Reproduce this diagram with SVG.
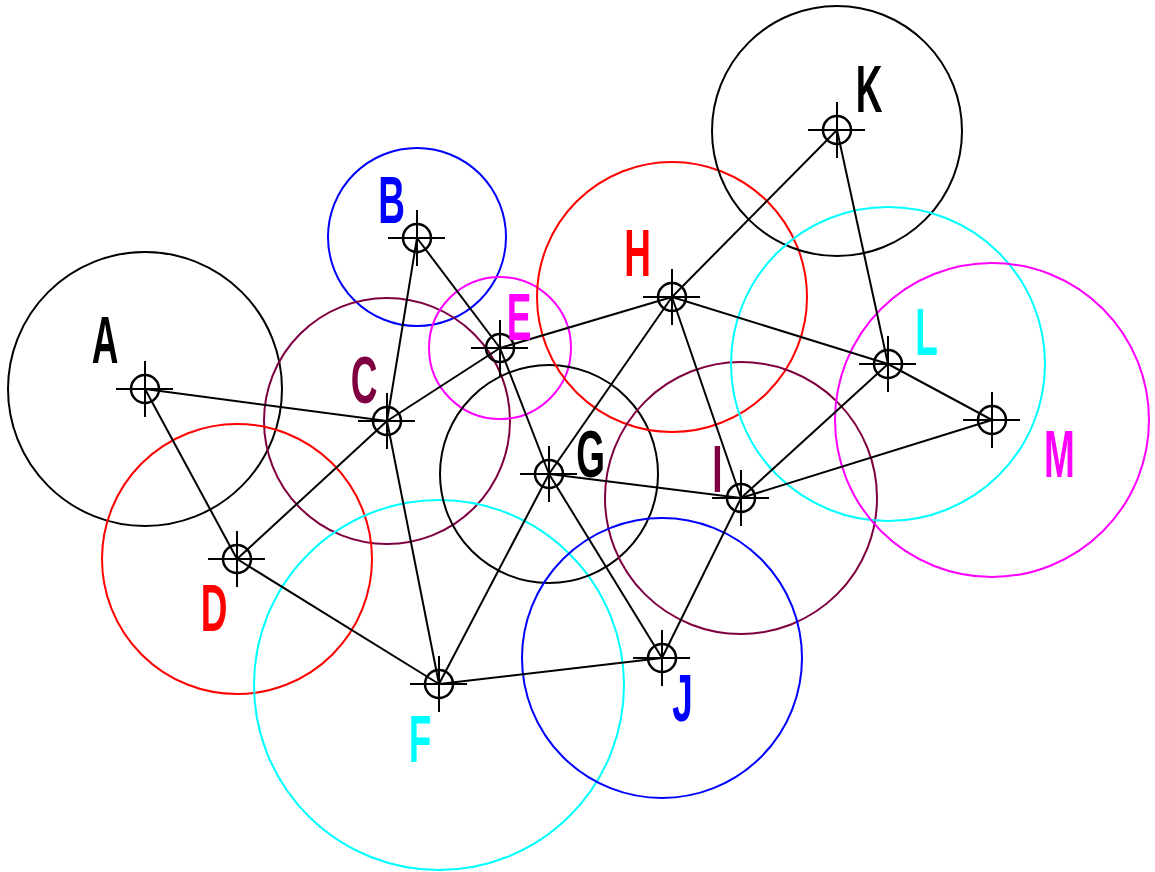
<svg xmlns="http://www.w3.org/2000/svg" width="1155" height="872" viewBox="0 0 1155 872">
<defs>
<style>
.zone{fill:none;stroke-width:2}
.ring{fill:none;stroke:#000;stroke-width:2.5}
.cross{stroke:#000;stroke-width:2}
.edge{stroke:#000;stroke-width:2;fill:none}
.lbl{font-family:"Liberation Sans",Arial,sans-serif;font-weight:bold;font-size:66px;text-anchor:middle}
</style>
<g id="mark">
<circle class="ring" cx="0" cy="0" r="14"/>
<line class="cross" x1="-29" y1="0" x2="28" y2="0"/>
<line class="cross" x1="0" y1="-28" x2="0" y2="28"/>
</g>
</defs>
<rect width="1155" height="872" fill="#fff"/>
<g id="zones">
<circle class="zone" cx="145" cy="389" r="137" stroke="#000"/>
<circle class="zone" cx="417" cy="237" r="89" stroke="#0000ff"/>
<circle class="zone" cx="387" cy="421" r="123" stroke="#7f0040"/>
<circle class="zone" cx="237" cy="559" r="135" stroke="#ff0000"/>
<circle class="zone" cx="500" cy="348" r="71" stroke="#ff00ff"/>
<circle class="zone" cx="439" cy="685" r="185" stroke="#00ffff"/>
<circle class="zone" cx="549" cy="474" r="109" stroke="#000"/>
<circle class="zone" cx="672" cy="297" r="135" stroke="#ff0000"/>
<circle class="zone" cx="741" cy="498" r="136" stroke="#7f0040"/>
<circle class="zone" cx="662" cy="658" r="140" stroke="#0000ff"/>
<circle class="zone" cx="837" cy="131" r="125" stroke="#000"/>
<circle class="zone" cx="888" cy="364" r="157" stroke="#00ffff"/>
<circle class="zone" cx="992" cy="420" r="157" stroke="#ff00ff"/>
</g>
<g id="connectors">
<line class="edge" x1="145" y1="389" x2="387" y2="421"/>
<line class="edge" x1="145" y1="389" x2="237" y2="559"/>
<line class="edge" x1="417" y1="238" x2="387" y2="421"/>
<line class="edge" x1="417" y1="238" x2="500" y2="348"/>
<line class="edge" x1="387" y1="421" x2="500" y2="348"/>
<line class="edge" x1="387" y1="421" x2="237" y2="559"/>
<line class="edge" x1="387" y1="421" x2="439" y2="684"/>
<line class="edge" x1="237" y1="559" x2="439" y2="684"/>
<line class="edge" x1="500" y1="348" x2="549" y2="474"/>
<line class="edge" x1="500" y1="348" x2="672" y2="297"/>
<line class="edge" x1="439" y1="684" x2="549" y2="474"/>
<line class="edge" x1="439" y1="684" x2="662" y2="658"/>
<line class="edge" x1="549" y1="474" x2="672" y2="297"/>
<line class="edge" x1="549" y1="474" x2="741" y2="498"/>
<line class="edge" x1="549" y1="474" x2="662" y2="658"/>
<line class="edge" x1="672" y1="297" x2="837" y2="130"/>
<line class="edge" x1="672" y1="297" x2="741" y2="498"/>
<line class="edge" x1="672" y1="297" x2="888" y2="364"/>
<line class="edge" x1="741" y1="498" x2="662" y2="658"/>
<line class="edge" x1="741" y1="498" x2="888" y2="364"/>
<line class="edge" x1="741" y1="498" x2="992" y2="420"/>
<line class="edge" x1="837" y1="130" x2="888" y2="364"/>
<line class="edge" x1="888" y1="364" x2="992" y2="420"/>
</g>
<g id="node-A"><use href="#mark" x="145" y="389"/><text class="lbl" fill="#000" transform="translate(105,363) scale(0.56,1)">A</text></g>
<g id="node-B"><use href="#mark" x="417" y="238"/><text class="lbl" fill="#0000ff" transform="translate(391.5,223) scale(0.56,1)">B</text></g>
<g id="node-C"><use href="#mark" x="387" y="421"/><text class="lbl" fill="#7f0040" transform="translate(364,403) scale(0.56,1)">C</text></g>
<g id="node-D"><use href="#mark" x="237" y="559"/><text class="lbl" fill="#ff0000" transform="translate(214,631) scale(0.56,1)">D</text></g>
<g id="node-E"><use href="#mark" x="500" y="348"/><text class="lbl" fill="#ff00ff" transform="translate(519,340) scale(0.56,1)">E</text></g>
<g id="node-F"><use href="#mark" x="439" y="684"/><text class="lbl" fill="#00ffff" transform="translate(420,762) scale(0.56,1)">F</text></g>
<g id="node-G"><use href="#mark" x="549" y="474"/><text class="lbl" fill="#000" transform="translate(590.5,477) scale(0.56,1)">G</text></g>
<g id="node-H"><use href="#mark" x="672" y="297"/><text class="lbl" fill="#ff0000" transform="translate(637.5,276) scale(0.56,1)">H</text></g>
<g id="node-I"><use href="#mark" x="741" y="498"/><text class="lbl" fill="#7f0040" transform="translate(717.5,492) scale(0.56,1)">I</text></g>
<g id="node-J"><use href="#mark" x="662" y="658"/><text class="lbl" fill="#0000ff" transform="translate(682.5,721) scale(0.56,1)">J</text></g>
<g id="node-K"><use href="#mark" x="837" y="130"/><text class="lbl" fill="#000" transform="translate(869,112) scale(0.56,1)">K</text></g>
<g id="node-L"><use href="#mark" x="888" y="364"/><text class="lbl" fill="#00ffff" transform="translate(926.5,355) scale(0.56,1)">L</text></g>
<g id="node-M"><use href="#mark" x="992" y="420"/><text class="lbl" fill="#ff00ff" transform="translate(1059.5,477) scale(0.56,1)">M</text></g>
</svg>
